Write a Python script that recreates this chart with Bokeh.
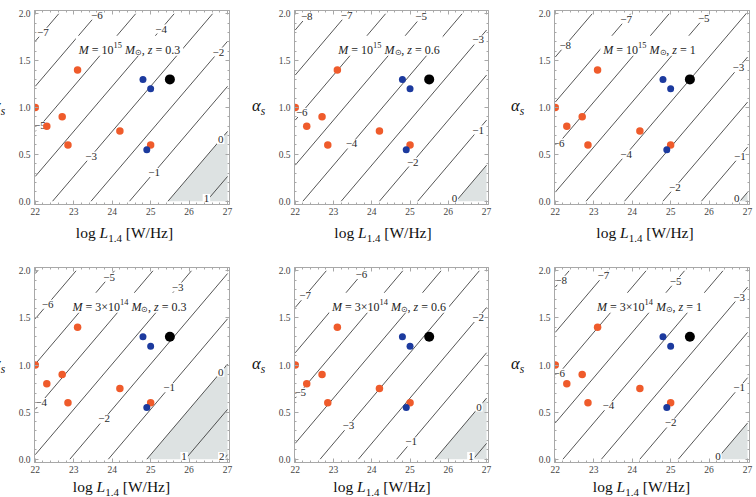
import numpy as np
from bokeh.plotting import figure
from bokeh.layouts import column, row
from bokeh.models import (Range1d, LinearAxis, FixedTicker, PrintfTickFormatter,
                          Label, Div, CustomJSTickFormatter)
from bokeh.core.properties import value
from bokeh.embed import file_html
from bokeh.resources import INLINE

# ---------------- data ----------------
orange_x = [22.0, 22.3, 22.7, 22.85, 23.1, 24.2, 25.0]
orange_y = [1.0, 0.8, 0.9, 0.6, 1.4, 0.75, 0.6]
blue_x = [24.8, 25.0, 24.9]
blue_y = [1.3, 1.2, 0.55]
black_x = [25.5]
black_y = [1.3]

x_ticks = [22, 23, 24, 25, 26, 27]
y_ticks = [0.0, 0.5, 1.0, 1.5, 2.0]

mass_coef = ["", "", "", "3×", "3×", "3×"]
mass_exp = ["15", "15", "15", "14", "14", "14"]
z_vals = ["0.3", "0.6", "1", "0.3", "0.6", "1"]
# log L where the 0-contour meets alpha_s = 0, per panel
zero_level_x = [25.45, 26.2, 26.8, 24.9, 25.65, 26.2]
contour_run = 2.08           # change of log L per unit alpha_s along a contour
levels = list(range(-10, 4))
# positions (log L) of the contour labels in each panel
label_x = [
    {-7: 22.2, -6: 23.6, -5: 22.12, -4: 25.27, -3: 23.45, -2: 26.76, -1: 25.09, 0: 26.82, 1: 26.45},
    {-8: 22.3, -7: 23.34, -6: 22.17, -5: 25.29, -4: 23.47, -3: 26.78, -2: 25.07, -1: 26.78, 0: 26.16},
    {-8: 22.26, -7: 23.84, -6: 22.09, -5: 25.86, -4: 23.84, -3: 26.76, -2: 25.11, -1: 26.8, 0: 26.72},
    {-6: 22.32, -5: 23.92, -4: 22.15, -3: 25.7, -2: 23.79, -1: 25.48, 0: 26.82, 1: 25.87, 2: 26.85},
    {-7: 22.26, -6: 23.73, -5: 22.13, -3: 23.39, -2: 26.78, -1: 25.03, 0: 26.8, 1: 26.59},
    {-8: 22.15, -7: 23.25, -6: 22.1, -5: 25.13, -4: 23.38, -3: 26.78, -2: 25.0, -1: 26.78, 0: 26.23},
]

# ---------------- style ----------------
FONT = "Liberation Serif"
FRAME = "#a8a8a8"
LINE = "#2a2a2a"
ORANGE = "#ef5b2b"
BLUE = "#1c3a9e"
SHADE = "#dde2e2"
TICKCOL = "#444444"

WR = {' ': 0.25, '.': 0.25, ',': 0.25, '=': 0.564, '×': 0.564, '[': 0.333, ']': 0.333,
      '/': 0.278, 'W': 0.944, 'H': 0.722, 'z': 0.444, 'l': 0.278, 'o': 0.5, 'g': 0.5, '⊙': 0.8}
WI = {'M': 0.833, 'L': 0.556, 'z': 0.389, 'α': 0.55, 's': 0.389, ' ': 0.25}


def w_of(s, italic):
    tab = WI if italic else WR
    return sum(tab.get(c, WR.get(c, 0.5)) for c in s)


def piece_geom(st, size):
    italic = st in ('i', 'isub')
    sz = size * 0.7 if st in ('sup', 'sub', 'isub') else size
    dy = size * 0.42 if st == 'sup' else (-size * 0.25 if st in ('sub', 'isub') else 0.0)
    return italic, sz, dy


def rich_width(pieces, size):
    tot = 0.0
    for txt, st in pieces:
        italic, sz, dy = piece_geom(st, size)
        tot += w_of(txt, italic) * sz
    return tot


def rich(p, x, y, x_off, y_off, pieces, size, color="#222222"):
    cur = x_off
    for txt, st in pieces:
        italic, sz, dy = piece_geom(st, size)
        lead = len(txt) - len(txt.lstrip(' '))
        core = txt.strip(' ')
        if core:
            p.add_layout(Label(x=x, y=y, x_units='data', y_units='data',
                               x_offset=cur + w_of(' ' * lead, italic) * sz,
                               y_offset=y_off + dy, text=core, text_font=FONT,
                               text_font_size=f"{sz:.1f}px",
                               text_font_style='italic' if italic else 'normal',
                               text_color=color, text_align='left',
                               text_baseline='alphabetic'))
        cur += w_of(txt, italic) * sz


def minors(t, n=5):
    out = []
    for a, b in zip(t[:-1], t[1:]):
        for i in range(1, n):
            out.append(a + i * (b - a) / n)
    return out


XLO, XHI = 21.98, 27.05
YLO, YHI = -0.035, 2.035
TILE_W = 252
TILE_H = [248, 249]
frame_left = [34, 42, 50]      # frame left edge inside each tile column
frame_right = [229, 236, 245]  # frame right edge inside each tile column
frame_top = [10, 19]
frame_bot = [204, 214]
ylab_w = [14, 22, 30]          # width of the y-title strip left of each figure
ylab_left = [-8, 0, 7]         # where alpha starts inside its strip
xlab_shift = [[-7, -8, -6.5], [-10, -9, -10]]
xlab_top = [1.8, 1.8]
FIG_H = [222, 228]

LBL_STYLE = "font-family:'Liberation Serif',serif;color:#111;white-space:nowrap;"


def make_panel(i):
    r, c = divmod(i, 3)
    fig_w = TILE_W - ylab_w[c]
    bl = frame_left[c] - ylab_w[c]
    br = TILE_W - frame_right[c]
    bt = frame_top[r]
    bb = FIG_H[r] - frame_bot[r]
    p = figure(width=fig_w, height=FIG_H[r], x_range=Range1d(XLO, XHI),
               y_range=Range1d(YLO, YHI), output_backend="svg", toolbar_location=None,
               min_border_left=bl, min_border_right=br, min_border_top=bt,
               min_border_bottom=bb)
    p.xgrid.visible = False
    p.ygrid.visible = False
    p.outline_line_color = FRAME
    p.background_fill_color = "white"
    p.border_fill_color = "white"

    xt = FixedTicker(ticks=x_ticks, minor_ticks=minors(x_ticks))
    yt = FixedTicker(ticks=y_ticks, minor_ticks=minors(y_ticks))
    for ax, tk in ((p.xaxis[0], xt), (p.yaxis[0], yt)):
        ax.ticker = tk
        ax.axis_line_color = FRAME
        ax.major_tick_line_color = FRAME
        ax.minor_tick_line_color = FRAME
        ax.major_tick_in = 4
        ax.major_tick_out = 0
        ax.minor_tick_in = 2
        ax.minor_tick_out = 0
        ax.major_label_text_font = FONT
        ax.major_label_text_font_size = "9.5px"
        ax.major_label_text_color = TICKCOL
        ax.major_label_standoff = 4
    p.xaxis[0].major_label_standoff = 3
    p.yaxis[0].formatter = PrintfTickFormatter(format="%.1f")

    for loc, tk in (("above", xt), ("right", yt)):
        ax = LinearAxis(ticker=tk, formatter=CustomJSTickFormatter(code="return ''"),
                        axis_line_color=FRAME, major_tick_line_color=FRAME,
                        minor_tick_line_color=FRAME, major_tick_in=4, major_tick_out=0,
                        minor_tick_in=2, minor_tick_out=0, major_label_standoff=0)
        p.add_layout(ax, loc)

    x0 = zero_level_x[i]
    k = contour_run
    # shaded region (level >= 0)
    ytop = min(2.0, (27 - x0) / k)
    sx = [x0, 27, 27]
    sy = [0, 0, ytop]
    if (27 - x0) / k > 2:
        sx.append(x0 + 2 * k)
        sy.append(2)
    p.patch(sx, sy, fill_color=SHADE, line_color=None)

    # contour lines
    xs0, ys0, xs1, ys1 = [], [], [], []
    for L in levels:
        xa = x0 + L
        ylo = max(0.0, (22 - xa) / k)
        yhi = min(2.0, (27 - xa) / k)
        if ylo < yhi:
            xs0.append(xa + k * ylo); ys0.append(ylo)
            xs1.append(xa + k * yhi); ys1.append(yhi)
    p.segment(x0=xs0, y0=ys0, x1=xs1, y1=ys1, line_color=LINE, line_width=0.8)

    # contour labels
    lx, ly, lt = [], [], []
    for L, xv in label_x[i].items():
        yv = (xv - x0 - L) / k
        yv = min(1.985, max(0.03, yv))
        lx.append(xv); ly.append(yv)
        lt.append(("−" + str(-L)) if L < 0 else str(L))
    p.text(x=lx, y=ly, text=lt, text_font=value(FONT), text_font_size="11px",
           text_align="center", text_baseline="middle", text_color=LINE,
           background_fill_color="white", padding=1)

    # title inside the panel
    size = 12
    pieces = [("M", 'i'), (" = ", 'r'), (mass_coef[i] + "10", 'r'), (mass_exp[i], 'sup'),
              (" M", 'i'), ("⊙", 'sub'), (", ", 'r'), ("z", 'i'), (" = " + z_vals[i], 'r')]
    tw = rich_width(pieces, size)
    tcx, tcy = 24.45, 1.66
    p.rect(x=[tcx], y=[tcy], width=[tw + 6], height=[20], width_units="screen",
           height_units="screen", fill_color="white", line_color=None)
    rich(p, tcx, tcy, -tw / 2, -4, pieces, size)

    # points
    p.scatter(orange_x, orange_y, size=7.5, fill_color=ORANGE, line_color=None)
    p.scatter(blue_x, blue_y, size=7, fill_color=BLUE, line_color=None)
    p.scatter(black_x, black_y, size=10, fill_color="black", line_color=None)

    # y title strip (alpha_s) and x title strip (log L_1.4 [W/Hz])
    yc = frame_top[r] + (YHI - 1.0) / (YHI - YLO) * (frame_bot[r] - frame_top[r])
    yhtml = (f"<div style=\"position:relative;left:{ylab_left[c]}px;top:{yc - 11:.1f}px;"
             f"{LBL_STYLE}font-size:16.5px;line-height:20px;\">"
             "<i>α</i><sub style=\"font-size:11.5px;line-height:0;vertical-align:-4px;\"><i>s</i></sub></div>")
    ydiv = Div(text=yhtml, width=ylab_w[c], height=FIG_H[r], margin=0,
               styles={"overflow": "hidden"})
    xcen = (frame_left[c] + frame_right[c]) / 2 + xlab_shift[r][c]
    xhtml = (f"<div style=\"position:relative;left:{xcen - TILE_W / 2:.1f}px;top:{xlab_top[r]}px;"
             f"width:{TILE_W}px;text-align:center;{LBL_STYLE}font-size:15.5px;line-height:18px;\">"
             "log <i>L</i><sub style=\"font-size:11px;line-height:0;vertical-align:-4px;\">1.4</sub>"
             " [W/Hz]</div>")
    xdiv = Div(text=xhtml, width=TILE_W, height=TILE_H[r] - FIG_H[r], margin=0,
               styles={"overflow": "hidden"})
    return column(row(ydiv, p, spacing=0), xdiv, spacing=0)


tiles = [make_panel(i) for i in range(6)]
layout = column(row(*tiles[:3], spacing=0), row(*tiles[3:], spacing=0), spacing=0)
open("out.html", "w").write(file_html(layout, INLINE))
